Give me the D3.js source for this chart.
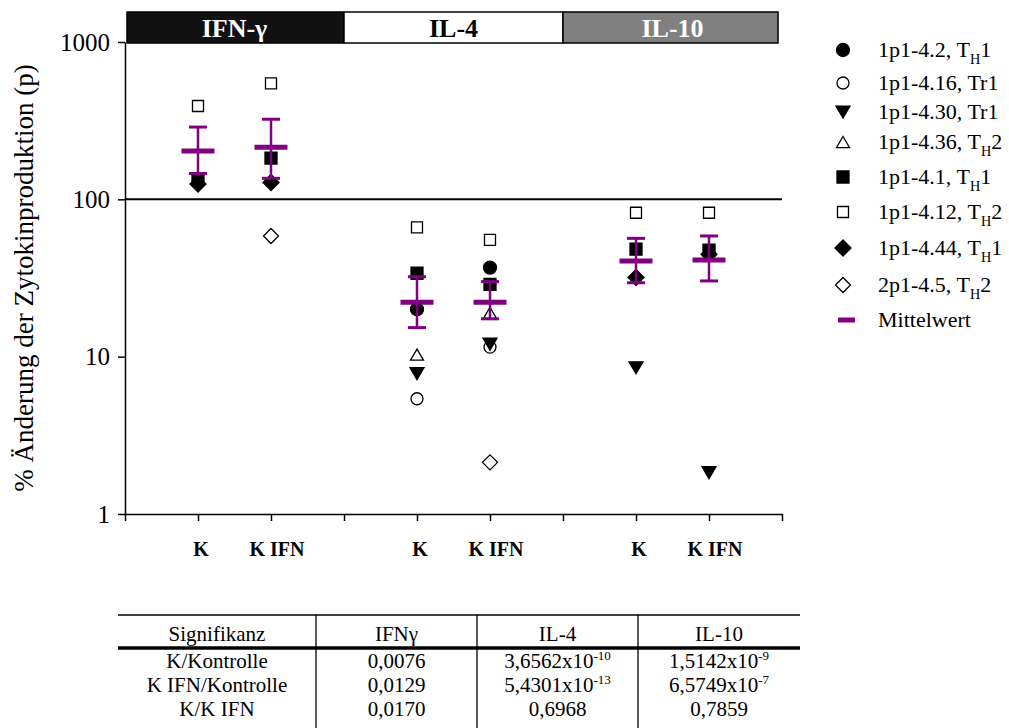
<!DOCTYPE html>
<html>
<head>
<meta charset="utf-8">
<script src="https://cdn.jsdelivr.net/npm/d3@7"></script>
<style>
  html, body { margin: 0; padding: 0; background: #fff; }
  svg text { font-family: "Liberation Serif", "Times New Roman", Times, serif; }
</style>
</head>
<body>
<svg id="chart" width="1009" height="728"></svg>
<script>
// ---- data ----
const cytokines = ["IFN-γ", "IL-4", "IL-10"];
const conditions = ["K", "K IFN"];

// values per clone, ordered IFN-γ K, IFN-γ K IFN, IL-4 K, IL-4 K IFN, IL-10 K, IL-10 K IFN
const clone_1p1_4_2  = [null, null, 20.0, 36.8, null, null];
const clone_1p1_4_16 = [null, null, 5.4, 11.5, null, null];
const clone_1p1_4_30 = [null, null, 7.8, 12.0, 8.5, 1.83];
const clone_1p1_4_36 = [null, null, 10.3, 19.0, null, null];
const clone_1p1_4_1  = [134, 183, 33.9, 28.8, 48.3, 47.5];
const clone_1p1_4_12 = [392, 546, 66.4, 55.2, 82.2, 82.2];
const clone_1p1_4_44 = [125, 128, null, null, 31.9, 44.7];
const clone_2p1_4_5  = [null, 58.5, null, 2.13, null, null];

const meanValues = [203, 214, 22.2, 22.2, 40.6, 41.2];
const errUpper   = [288, 323, 32.2, 30.0, 56.5, 58.5];
const errLower   = [146, 136, 15.3, 17.4, 29.5, 30.3];

const yTicks = [1, 10, 100, 1000];

const seriesLabels = ["1p1-4.2, T_H1", "1p1-4.16, Tr1", "1p1-4.30, Tr1", "1p1-4.36, T_H2",
                      "1p1-4.1, T_H1", "1p1-4.12, T_H2", "1p1-4.44, T_H1", "2p1-4.5, T_H2"];
const meanLabel = "Mittelwert";

// significance table
const tableHeader = ["Signifikanz", "IFNγ", "IL-4", "IL-10"];
const tableRowLabels = ["K/Kontrolle", "K IFN/Kontrolle", "K/K IFN"];
const pIFNg = ["0,0076", "0,0129", "0,0170"];
const pIL4  = ["3,6562x10^-10", "5,4301x10^-13", "0,6968"];
const pIL10 = ["1,5142x10^-9", "6,5749x10^-7", "0,7859"];

const SERIF = "'Liberation Serif', 'Times New Roman', Times, serif";

// ---- marker shapes ----
const shapes = {
  circle: r => `M${-r},0A${r},${r} 0 1,0 ${r},0A${r},${r} 0 1,0 ${-r},0Z`,
  triDown: s => `M${-s},${-s * 0.85}L${s},${-s * 0.85}L0,${s * 0.85}Z`,
  triUp: s => `M${-s},${s * 0.85}L${s},${s * 0.85}L0,${-s * 0.85}Z`,
  square: s => `M${-s},${-s}H${s}V${s}H${-s}Z`,
  diamond: s => `M0,${-s}L${s},0L0,${s}L${-s},0Z`
};

const series = [
  { values: clone_1p1_4_2,  shape: shapes.circle(6.5),  filled: true },
  { values: clone_1p1_4_16, shape: shapes.circle(6),    filled: false },
  { values: clone_1p1_4_30, shape: shapes.triDown(7),   filled: true },
  { values: clone_1p1_4_36, shape: shapes.triUp(6.5),   filled: false },
  { values: clone_1p1_4_1,  shape: shapes.square(6),    filled: true },
  { values: clone_1p1_4_12, shape: shapes.square(5.5),  filled: false },
  { values: clone_1p1_4_44, shape: shapes.diamond(8),   filled: true },
  { values: clone_2p1_4_5,  shape: shapes.diamond(7.5), filled: false }
].map((s, i) => Object.assign(s, { label: seriesLabels[i] }));

// x position of a column: 3 slots per cytokine, conditions at slot 1 and 2
const colPos = i => Math.floor(i / 2) * 3 + 1 + (i % 2);

// ---- scales ----
const svg = d3.select("#chart");
const x = d3.scaleLinear().domain([0, 9]).range([125, 782]);
const y = d3.scaleLog().domain([1, 1000]).range([514, 42]);
const purple = "#800080";

// header strip naming the cytokines
const strip = svg.append("g");
const stripFill = ["#111111", "#ffffff", "#808080"];
const stripText = ["#ffffff", "#000000", "#ffffff"];
cytokines.forEach((c, g) => {
  const x0 = Math.max(x(g * 3), x(0) + 2);
  const x1 = Math.min(x(g * 3 + 3), x(9) - 4);
  strip.append("rect")
    .attr("x", x0).attr("y", 12).attr("width", x1 - x0).attr("height", 31)
    .attr("fill", stripFill[g]).attr("stroke", "#000").attr("stroke-width", 1.5);
  strip.append("text")
    .attr("x", x(g * 3 + 1.5)).attr("y", 28)
    .attr("text-anchor", "middle").attr("dominant-baseline", "central")
    .attr("font-family", SERIF)
    .attr("font-size", 26).attr("font-weight", "bold")
    .attr("fill", stripText[g]).text(c);
});

// axes
const yAxis = svg.append("g").attr("transform", `translate(${x(0)},0)`)
  .call(d3.axisLeft(y).tickValues(yTicks).tickFormat(d3.format("d"))
    .tickSize(7).tickSizeOuter(0).tickPadding(8));
yAxis.attr("font-family", SERIF);
yAxis.selectAll("text").attr("font-size", 25).attr("fill", "#000");
yAxis.selectAll("line, path").attr("stroke", "#000").attr("stroke-width", 1.5);

const xAxis = svg.append("g").attr("transform", `translate(0,${y(1)})`)
  .call(d3.axisBottom(x).tickValues(d3.range(0, 10)).tickFormat("")
    .tickSize(7).tickSizeOuter(0));
xAxis.selectAll("line, path").attr("stroke", "#000").attr("stroke-width", 1.5);

// category labels under the axis
svg.append("g").selectAll("text")
  .data(meanValues.map((_, i) => i))
  .join("text")
  .attr("x", i => x(colPos(i)) + (i % 2 ? 6 : 3))
  .attr("y", 549)
  .attr("text-anchor", "middle").attr("dominant-baseline", "central")
  .attr("font-family", SERIF)
  .attr("font-size", 20).attr("font-weight", "bold")
  .text(i => conditions[i % 2]);

// y title
svg.append("text")
  .attr("transform", `translate(24,278) rotate(-90)`)
  .attr("text-anchor", "middle").attr("dominant-baseline", "central")
  .attr("font-family", SERIF)
  .attr("font-size", 27)
  .text("% Änderung der Zytokinproduktion (p)");

// reference line at 100 %
svg.append("line")
  .attr("x1", x(0)).attr("x2", x(9))
  .attr("y1", y(100)).attr("y2", y(100))
  .attr("stroke", "#000").attr("stroke-width", 2);

// clone points
const pts = svg.append("g");
series.forEach(s => {
  pts.append("g").selectAll("path")
    .data(s.values.map((v, i) => ({ v, i })).filter(d => d.v != null))
    .join("path")
    .attr("transform", d => `translate(${x(colPos(d.i))},${y(d.v)})`)
    .attr("d", s.shape)
    .attr("fill", s.filled ? "#000" : "#fff")
    .attr("stroke", "#000").attr("stroke-width", 1.3);
});

// means with error bars
const means = svg.append("g").attr("stroke", purple);
meanValues.forEach((m, i) => {
  const cx = x(colPos(i));
  means.append("line").attr("x1", cx).attr("x2", cx)
    .attr("y1", y(errUpper[i])).attr("y2", y(errLower[i])).attr("stroke-width", 2.5);
  [errUpper[i], errLower[i]].forEach(v => {
    means.append("line").attr("x1", cx - 9).attr("x2", cx + 9)
      .attr("y1", y(v)).attr("y2", y(v)).attr("stroke-width", 3);
  });
  means.append("line").attr("x1", cx - 16.5).attr("x2", cx + 16.5)
    .attr("y1", y(m)).attr("y2", y(m)).attr("stroke-width", 5);
});

// text with _X subscripts and ^... superscripts
function richText(sel, str, size) {
  const sup = str.split("^");
  const parts = sup[0].split(/_(.)/);
  parts.forEach((p, k) => {
    if (!p) return;
    const t = sel.append("tspan").text(p);
    if (k % 2 === 1) t.attr("font-size", size * 0.65).attr("dy", size * 0.3);
    else if (k > 0) t.attr("dy", -size * 0.3);
  });
  if (sup[1]) {
    sel.append("tspan").attr("font-size", size * 0.62).attr("dy", -size * 0.4).text(sup[1]);
  }
}

// legend
const legendRowY = [50, 83, 112, 142, 177, 212, 248, 285, 320];
const legend = svg.append("g");
series.forEach((s, i) => {
  legend.append("path")
    .attr("transform", `translate(843,${legendRowY[i]})`)
    .attr("d", s.shape)
    .attr("fill", s.filled ? "#000" : "#fff")
    .attr("stroke", "#000").attr("stroke-width", 1.3);
  const t = legend.append("text").attr("x", 878).attr("y", legendRowY[i] + 7)
    .attr("font-family", SERIF).attr("font-size", 22);
  richText(t, s.label, 22);
});
legend.append("line")
  .attr("x1", 838).attr("x2", 855)
  .attr("y1", legendRowY[8]).attr("y2", legendRowY[8])
  .attr("stroke", purple).attr("stroke-width", 5);
legend.append("text").attr("x", 878).attr("y", legendRowY[8] + 7)
  .attr("font-family", SERIF).attr("font-size", 22).text(meanLabel);

// significance table
const table = svg.append("g");
const colEdges = [118, 316, 477, 638, 800];
const colCenter = c => (colEdges[c] + colEdges[c + 1]) / 2;
table.append("line").attr("x1", 118).attr("x2", 800).attr("y1", 615).attr("y2", 615)
  .attr("stroke", "#000").attr("stroke-width", 1.5);
table.append("line").attr("x1", 118).attr("x2", 800).attr("y1", 648).attr("y2", 648)
  .attr("stroke", "#000").attr("stroke-width", 3.5);
colEdges.slice(1, 4).forEach(cx => {
  table.append("line").attr("x1", cx).attr("x2", cx).attr("y1", 615).attr("y2", 730)
    .attr("stroke", "#000").attr("stroke-width", 1.3);
});
tableHeader.forEach((h, c) => {
  table.append("text").attr("x", colCenter(c)).attr("y", 641)
    .attr("text-anchor", "middle").attr("font-family", SERIF).attr("font-size", 21).text(h);
});
const tableCols = [tableRowLabels, pIFNg, pIL4, pIL10];
tableCols.forEach((col, c) => {
  col.forEach((v, r) => {
    const t = table.append("text").attr("x", colCenter(c)).attr("y", 668 + r * 24)
      .attr("text-anchor", "middle").attr("font-family", SERIF).attr("font-size", 21);
    richText(t, v, 21);
  });
});
</script>
</body>
</html>
